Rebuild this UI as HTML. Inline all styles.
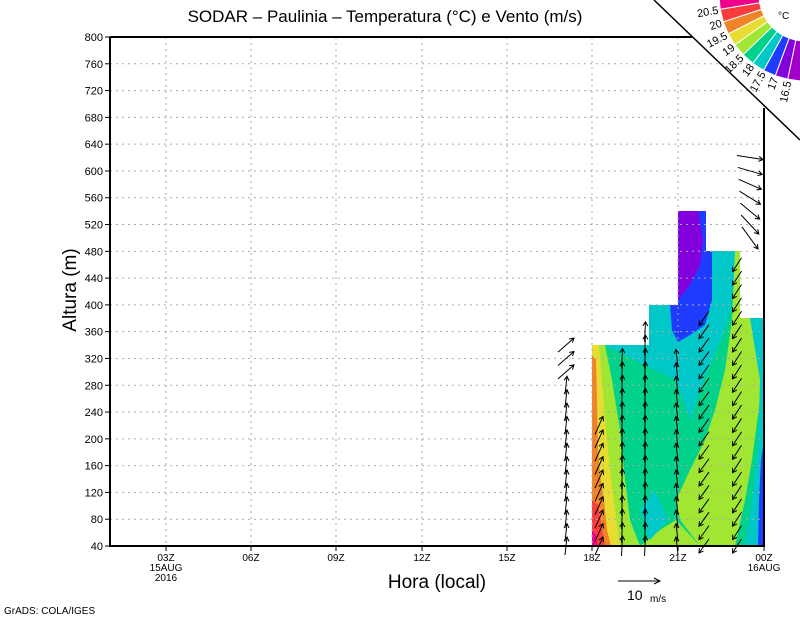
<!DOCTYPE html>
<html><head><meta charset="utf-8"><style>
body{margin:0;background:#fff;}
svg text{font-family:"Liberation Sans",sans-serif;}
</style></head><body>
<svg id="s" width="800" height="618" xmlns="http://www.w3.org/2000/svg">
<rect width="800" height="618" fill="#fff"/>
<g id="fill">
<polygon points="592,345 649,345 649,305 678,305 678,211 706,211 706,251 735,251 735,318 764,318 764,546 592,546" fill="#00d28c"/>
<polygon points="600,345 649,345 649,305 678,305 678,211 706,211 706,251 735,251 735,290 725,330 712,360 700,390 690,420 676,380 655,370 635,360 615,350 600,345" fill="#00c8c8"/>
<polygon points="670,305 678,305 678,211 706,211 706,251 712,251 712,300 705,325 690,335 678,342 672,330" fill="#1e3cff"/>
<polygon points="678,211 698,211 703,240 700,265 690,285 678,300" fill="#8200dc"/>
<polygon points="735,251 740,251 740,318 764,318 764,330 760,400 752,460 745,500 735,546 700,546 680,520 676,500 690,470 705,440 715,410 725,370 732,320" fill="#a0e632"/>
<polygon points="750,318 764,318 764,546 745,546 752,500 758,450 760,380" fill="#00c8c8"/>
<polygon points="761,460 764,440 764,546 758,546 759,500" fill="#1e3cff"/>
<polygon points="676,520 700,546 640,546 660,530" fill="#a0e632"/>
<polygon points="640,510 655,490 668,520 650,540" fill="#00c8c8"/>
<polygon points="592,345 605,345 612,380 620,430 625,480 630,520 640,546 592,546" fill="#a0e632"/>
<polygon points="592,345 599,345 602,380 606,430 610,470 615,510 620,546 592,546" fill="#e6dc32"/>
<polygon points="592,355 596,360 597,400 598,450 600,475 604,500 607,530 611,546 592,546" fill="#f08228"/>
<polygon points="592,500 598,505 602,530 605,546 592,546" fill="#fa3c3c"/>
<polygon points="592,530 596,535 597,546 592,546" fill="#f0008c"/>
</g>
<g id="grid"></g>
<g id="arr" stroke="#000" stroke-width="1" fill="none"></g>
<path d="M110,37 L692,37 M764,108 L764,546 L110,546 L110,37" stroke="#000" stroke-width="2" fill="none"/>
<line x1="654" y1="0" x2="800" y2="140" stroke="#000" stroke-width="1.5"/>
<g id="ticks" font-size="11" fill="#000"></g>
<text x="385" y="22" font-size="17" text-anchor="middle">SODAR – Paulinia – Temperatura (°C) e Vento (m/s)</text>
<text x="76" y="290" font-size="19" text-anchor="middle" transform="rotate(-90 76 290)">Altura (m)</text>
<text x="437" y="588" font-size="19" text-anchor="middle">Hora (local)</text>
<text x="4" y="614" font-size="10">GrADS: COLA/IGES</text>
<line x1="618" y1="581" x2="660" y2="581" stroke="#000"/><path d="M654,578 L660,581 L654,584" stroke="#000" fill="none"/>
<text x="627" y="600" font-size="14">10</text><text x="650" y="602" font-size="10">m/s</text>
<g id="leg"></g>
<text x="778" y="19" font-size="10">°C</text>
</svg>
<script>
const NS="http://www.w3.org/2000/svg";
function el(p,t,a,txt){const e=document.createElementNS(NS,t);for(const k in a)e.setAttribute(k,a[k]);if(txt!==undefined)e.textContent=txt;p.appendChild(e);return e;}
const g=document.getElementById('grid'),tk=document.getElementById('ticks');
const Y=v=>546-(v-40)*509/760;
for(let v=40;v<=800;v+=40){const y=Y(v);
 if(v>40&&v<800)el(g,'line',{x1:110,x2:764,y1:y,y2:y,stroke:'#aaa','stroke-dasharray':'2,4'});
 el(tk,'line',{x1:105,x2:110,y1:y,y2:y,stroke:'#000'});
 el(tk,'text',{x:103,y:y+4,'text-anchor':'end'},v);}
const xs=[166,251,336,422,507,592,678,764],lb=['03Z','06Z','09Z','12Z','15Z','18Z','21Z','00Z'];
xs.forEach((x,i)=>{if(i<7)el(g,'line',{x1:x,x2:x,y1:37,y2:546,stroke:'#aaa','stroke-dasharray':'2,4'});
 el(tk,'line',{x1:x,x2:x,y1:546,y2:551,stroke:'#000'});
 el(tk,'text',{x:x,y:561,'text-anchor':'middle','font-size':10},lb[i]);});
el(tk,'text',{x:166,y:571,'text-anchor':'middle','font-size':10},'15AUG');
el(tk,'text',{x:166,y:581,'text-anchor':'middle','font-size':10},'2016');
el(tk,'text',{x:764,y:571,'text-anchor':'middle','font-size':10},'16AUG');
const a=document.getElementById('arr');
function arrow(x,y,dx,dy){const x2=x+dx,y2=y+dy,L=Math.hypot(dx,dy)||1,ux=dx/L,uy=dy/L,h=5;
 const p=`M${x},${y}L${x2},${y2}M${x2-h*(ux*0.85-uy*0.5)},${y2-h*(uy*0.85+ux*0.5)}L${x2},${y2}L${x2-h*(ux*0.85+uy*0.5)},${y2-h*(uy*0.85-ux*0.5)}`;
 el(a,'path',{d:p});}
function col(x,v0,v1,f){for(let v=v0;v<=v1;v+=20){const y=Y(v);const [dx,dy]=f(v);arrow(x-dx/2,y-dy/2,dx,dy);}}
col(566,40,340,v=>v>280?[16,-14]:[2,-18]);
col(599,40,220,v=>[8,-18]);
col(622,40,320,v=>[1,-20]);
col(645,40,360,v=>[1,-20]);
col(677,40,320,v=>[-2,-18]);
col(704,40,380,v=>[-10,14]);
col(737,40,460,v=>[-9,14]);
col(750,500,620,v=>{const t=(620-v)/120;return [26-10*t,4+18*t];});
// legend
const lg=document.getElementById('leg');
const cols=['#a000c8','#8200dc','#1e3cff','#00c8c8','#00d28c','#a0e632','#e6dc32','#f08228','#fa3c3c','#f0008c'];
const cx=805,cy=-5,r1=46,r2=86,a0=93,da=8.6;
const p=(r,d)=>{const t=d*Math.PI/180;return (cx+r*Math.cos(t)).toFixed(1)+','+(cy+r*Math.sin(t)).toFixed(1);};
for(let i=0;i<10;i++){const t0=a0+i*da,t1=a0+(i+1)*da;
 el(lg,'path',{d:`M${p(r1,t0)}L${p(r2,t0)}L${p(r2,t1)}L${p(r1,t1)}Z`,fill:cols[i],stroke:'#fff','stroke-width':1});}
const labs=['16.5','17','17.5','18','18.5','19','19.5','20','20.5'];
labs.forEach((l,i)=>{const d=a0+(i+1)*da,t=d*Math.PI/180,r=r2+2;
 const x=cx+r*Math.cos(t),y=cy+r*Math.sin(t);
 el(lg,'text',{x:x,y:y+4,'font-size':11,'text-anchor':'end',transform:`rotate(${d-180} ${x} ${y})`},l);});
</script>
</body></html>
